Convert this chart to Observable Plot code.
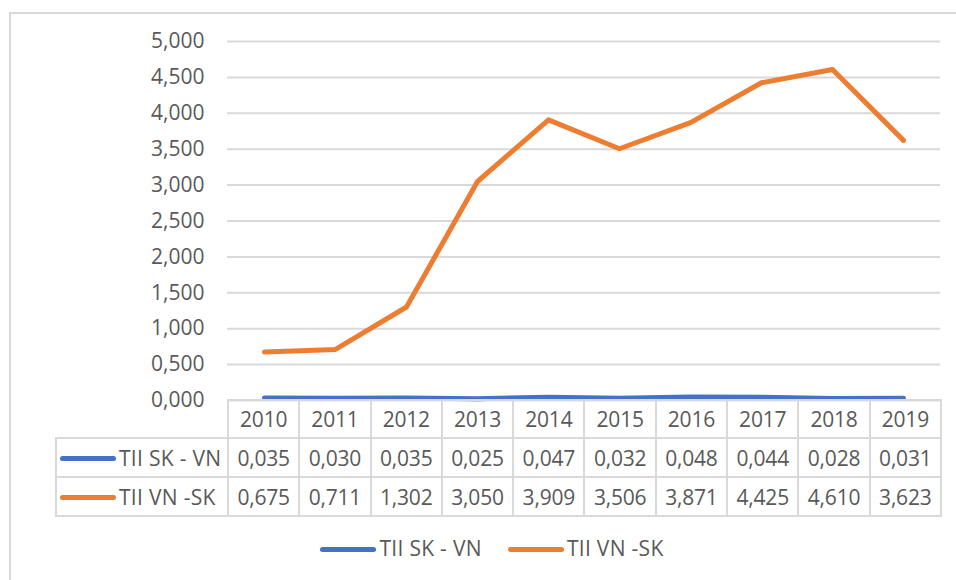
<!DOCTYPE html>
<html>
<head>
<meta charset="utf-8">
<script src="https://cdn.jsdelivr.net/npm/d3@7"></script>
<script src="https://cdn.jsdelivr.net/npm/@observablehq/plot@0.6"></script>
<style>
  html, body { margin: 0; padding: 0; background: #fff; }
  #wrap { position: relative; width: 956px; height: 580px; overflow: hidden; font-family: "Open Sans", sans-serif; color: #595959; }
  #frame { position: absolute; left: 9px; top: 12px; width: 960px; height: 600px; border-left: 2px solid #d9d9d9; border-top: 2px solid #d9d9d9; box-sizing: border-box; }
  #chart { position: absolute; left: 0; top: 0; }
  #table { position: absolute; left: 55px; top: 399px; border-collapse: collapse; table-layout: fixed; font-size: 21px; }
  #table td { border: 2px solid #d9d9d9; text-align: center; padding: 0; white-space: nowrap; letter-spacing: -0.2px; }
  #table td.blank { border-top: none; border-left: none; }
  #table td.lab { text-align: left; padding-left: 3px; letter-spacing: 0.3px; }
  .sw { display: inline-block; width: 56px; height: 5px; border-radius: 3px; vertical-align: middle; margin-right: 3px; position: relative; top: -1px; }
  #legend { position: absolute; left: 14px; top: 534px; width: 956px; text-align: center; font-size: 21px; letter-spacing: 0.3px; }
  #legend span.item { display: inline-block; margin: 0 13px; }
</style>
</head>
<body>
<div id="wrap">
  <div id="frame"></div>
  <div id="chart"></div>
  <table id="table"></table>
  <div id="legend"></div>
</div>
<script>
const years = ["2010","2011","2012","2013","2014","2015","2016","2017","2018","2019"];
const seriesNames = ["TII SK - VN", "TII VN -SK"];
const seriesColors = ["#4472C4", "#ED7D31"];
const skVn = [0.035, 0.030, 0.035, 0.025, 0.047, 0.032, 0.048, 0.044, 0.028, 0.031];
const vnSk = [0.675, 0.711, 1.302, 3.050, 3.909, 3.506, 3.871, 4.425, 4.610, 3.623];
const yTicks = [0, 0.5, 1, 1.5, 2, 2.5, 3, 3.5, 4, 4.5, 5];

const fmt = d => d3.format(".3f")(d).replace(".", ",");
const valuesBySeries = [skVn, vnSk];
const data = [];
seriesNames.forEach((s, i) => years.forEach((y, j) => data.push({series: s, year: y, value: valuesBySeries[i][j]})));

const chart = Plot.plot({
  width: 956,
  height: 420,
  marginLeft: 227,
  marginRight: 16,
  marginTop: 41,
  marginBottom: 20,
  style: { fontFamily: "Open Sans, sans-serif", fontSize: "21px", color: "#595959", background: "transparent", overflow: "visible" },
  x: { type: "point", domain: years, padding: 0.5, axis: null },
  y: { domain: [0, 5], axis: null },
  color: { domain: seriesNames, range: seriesColors },
  marks: [
    Plot.gridY(yTicks, { stroke: "#d9d9d9", strokeOpacity: 1, strokeWidth: 2 }),
    Plot.axisY(yTicks, { tickSize: 0, tickPadding: 23, tickFormat: fmt, label: null, fill: "#595959", fontSize: 21 }),
    Plot.line(data, { x: "year", y: "value", z: "series", stroke: "series", strokeWidth: 5, strokeLinecap: "round", strokeLinejoin: "round" })
  ]
});
document.getElementById("chart").appendChild(chart);

// data table
const table = document.getElementById("table");
const colgroup = document.createElement("colgroup");
const c0 = document.createElement("col"); c0.style.width = "172px"; colgroup.appendChild(c0);
years.forEach(() => { const c = document.createElement("col"); c.style.width = "71.3px"; colgroup.appendChild(c); });
table.appendChild(colgroup);
const hdr = document.createElement("tr"); hdr.style.height = "38px";
const blank = document.createElement("td"); blank.className = "blank"; hdr.appendChild(blank);
years.forEach(y => { const td = document.createElement("td"); td.textContent = y; hdr.appendChild(td); });
table.appendChild(hdr);
seriesNames.forEach((s, i) => {
  const tr = document.createElement("tr"); tr.style.height = "39px";
  const lab = document.createElement("td"); lab.className = "lab";
  lab.innerHTML = `<span class="sw" style="background:${seriesColors[i]}"></span>${s}`;
  tr.appendChild(lab);
  valuesBySeries[i].forEach(v => { const td = document.createElement("td"); td.textContent = fmt(v); tr.appendChild(td); });
  table.appendChild(tr);
});

// legend
const legend = document.getElementById("legend");
seriesNames.forEach((s, i) => {
  const it = document.createElement("span"); it.className = "item";
  it.innerHTML = `<span class="sw" style="background:${seriesColors[i]}"></span>${s}`;
  legend.appendChild(it);
});
</script>
</body>
</html>
